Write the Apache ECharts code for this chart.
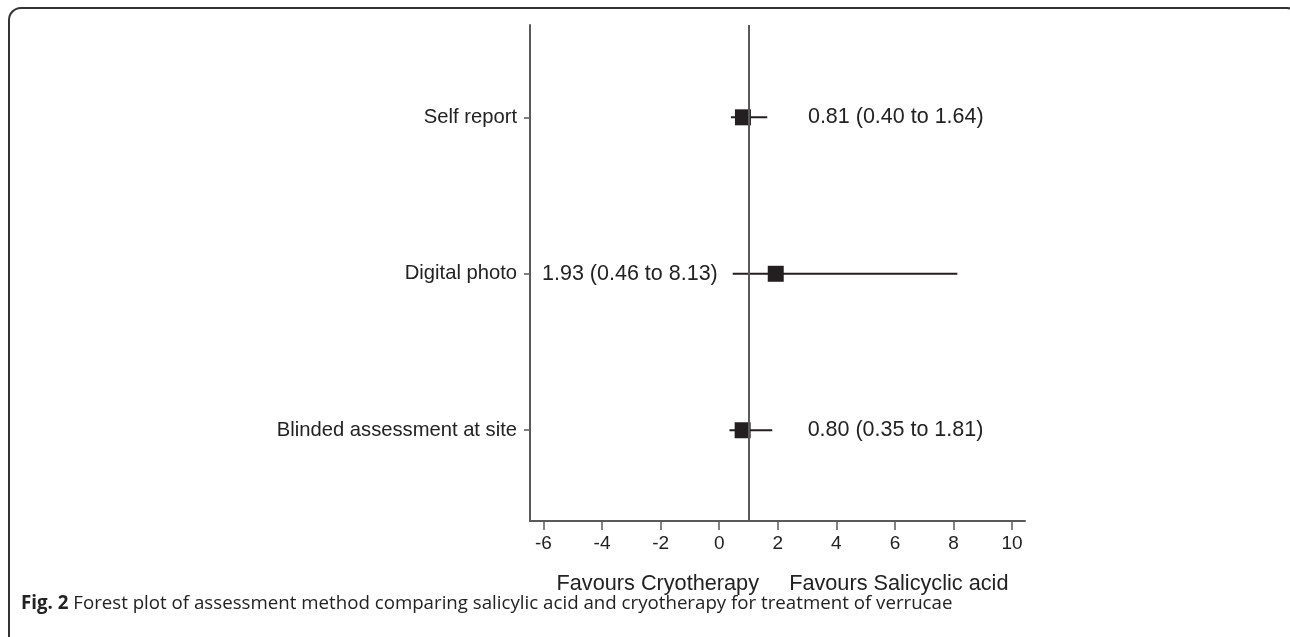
<!DOCTYPE html>
<html>
<head>
<meta charset="utf-8">
<script src="https://cdn.jsdelivr.net/npm/echarts@6/dist/echarts.min.js"></script>
<style>
html,body{margin:0;padding:0;background:#fff;}
#chart{width:1290px;height:637px;}
</style>
</head>
<body>
<div id="chart"></div>
<script>
// ---- data ----
const categories = ['Self report', 'Digital photo', 'Blinded assessment at site'];
const estimates = [0.81, 1.93, 0.80];
const lower = [0.40, 0.46, 0.35];
const upper = [1.64, 8.13, 1.81];
const xTicks = [-6, -4, -2, 0, 2, 4, 6, 8, 10];
const referenceValue = 1;
const xTitleLeft = 'Favours Cryotherapy';
const xTitleRight = 'Favours Salicyclic acid';
const captionBold = 'Fig. 2';
const captionText = 'Forest plot of assessment method comparing salicylic acid and cryotherapy for treatment of verrucae';

// ---- build ----
const n = categories.length;
const rowY = categories.map((c, i) => n - i);
const fmt = v => v.toFixed(2);
const INK = '#231f20';
const AXIS = '#5a5a5a';
const FONT = '"Liberation Sans", Arial, Helvetica, sans-serif';
const CAPFONT = '"Open Sans", "Noto Sans", sans-serif';

const ciData = categories.map((c, i) => [lower[i], upper[i], rowY[i]]);
const pointData = categories.map((c, i) => {
  const wide = upper[i] > 4;
  return {
    value: [estimates[i], rowY[i]],
    label: {
      show: true,
      position: wide ? 'left' : 'right',
      distance: wide ? 50 : 57,
      formatter: `${fmt(estimates[i])} (${fmt(lower[i])} to ${fmt(upper[i])})`,
      color: '#222',
      fontSize: 21.5,
      fontFamily: FONT
    }
  };
});

const chart = echarts.init(document.getElementById('chart'), null, {renderer: 'canvas'});
chart.setOption({
  backgroundColor: '#fff',
  animation: false,
  grid: {left: 530, right: 265, top: 25, bottom: 116},
  xAxis: {
    type: 'value',
    min: -6.46,
    max: 10.44,
    splitLine: {show: false},
    axisLine: {show: true, onZero: false, lineStyle: {color: AXIS, width: 2}},
    axisTick: {show: true, customValues: xTicks, length: 9, lineStyle: {color: AXIS, width: 1.5}},
    axisLabel: {customValues: xTicks, fontSize: 19, color: '#222', margin: 13, fontFamily: FONT},
    name: xTitleLeft + '     ' + xTitleRight,
    nameLocation: 'middle',
    nameGap: 52,
    nameTextStyle: {fontSize: 21.7, color: '#222', fontFamily: FONT, padding: [0, 0, 0, 10]}
  },
  yAxis: {
    type: 'value',
    min: 0.42,
    max: 3.59,
    splitLine: {show: false},
    axisLine: {show: true, onZero: false, lineStyle: {color: AXIS, width: 2}},
    axisTick: {show: true, customValues: rowY, length: 6, lineStyle: {color: AXIS, width: 1.5}},
    axisLabel: {
      customValues: rowY,
      formatter: v => categories[n - Math.round(v)] || '',
      fontSize: 20.2, color: '#222', margin: 13, fontFamily: FONT
    }
  },
  series: [
    {
      type: 'custom',
      data: ciData,
      encode: {x: [0, 1], y: 2},
      renderItem: (params, api) => {
        const a = api.coord([api.value(0), api.value(2)]);
        const b = api.coord([api.value(1), api.value(2)]);
        return {type: 'line', shape: {x1: a[0], y1: a[1], x2: b[0], y2: b[1]}, style: {stroke: INK, lineWidth: 2}};
      },
      z: 2
    },
    {
      type: 'scatter',
      symbol: 'rect',
      symbolSize: 16,
      itemStyle: {color: INK, opacity: 1},
      data: pointData,
      z: 3,
      markLine: {
        silent: true,
        symbol: 'none',
        label: {show: false},
        lineStyle: {color: AXIS, width: 2, type: 'solid'},
        data: [{xAxis: referenceValue}]
      }
    }
  ],
  graphic: [
    {
      type: 'rect',
      shape: {x: 9, y: 8, width: 1290, height: 660, r: 12},
      style: {fill: 'none', stroke: '#333', lineWidth: 2},
      silent: true
    },
    {
      type: 'text',
      left: 21,
      top: 594,
      style: {
        text: '{b|' + captionBold + '} ' + captionText,
        fontSize: 18.7,
        fontFamily: CAPFONT,
        fill: '#222',
        rich: {b: {fontWeight: 'bold', fontSize: 18.7, fontFamily: CAPFONT, fill: '#222'}}
      }
    }
  ]
});
</script>
</body>
</html>
